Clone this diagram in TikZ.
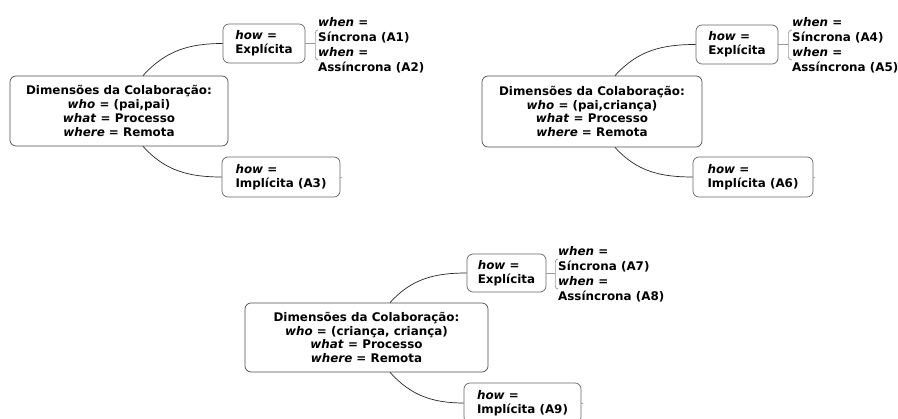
\documentclass[tikz,border=0pt]{standalone}
\usepackage{fontspec}
\setmainfont{DejaVu Sans}
\begin{document}
\begin{tikzpicture}[x=1pt,y=-1pt,
  every node/.style={font=\fontsize{11.9}{13.8}\selectfont\bfseries},
  mainbox/.style={draw=black!70, line width=0.7pt, rounded corners=6pt, align=center, minimum height=70pt, inner sep=0pt},
  subbox/.style={draw=black!60, line width=0.7pt, rounded corners=6pt, align=left, minimum height=39pt, inner sep=0pt},
  whennode/.style={anchor=west, align=left, inner sep=0pt, font=\fontsize{11.9}{15}\selectfont\bfseries},
  conn/.style={draw=black!85, line width=0.7pt},
  br/.style={draw=black!40, line width=0.7pt},
  stub/.style={draw=black!35, line width=0.5pt}]
\clip (0,0) rectangle (898,419);
\useasboundingbox (0,0) rectangle (898,419);

% ---------- diagram 1 ----------
\node[mainbox, minimum width=218pt] (m1) at (119,111)
  {Dimensões da Colaboração:\\\textit{who} = (pai,pai)\\\textit{what} = Processo\\\textit{where} = Remota};
\node[subbox, minimum width=82pt] (e1) at (264,43.5) {\textit{how} =\\Explícita};
\node[subbox, minimum width=118pt, minimum height=40pt] (i1) at (281,177) {\textit{how} =\\Implícita (A3)};
\draw[conn] ([xshift=24pt]m1.north) to[out=48,in=180] (e1.west);
\draw[conn] ([xshift=24pt]m1.south) to[out=-48,in=180] (i1.west);
\node[whennode] (w1a) at (318,30) {\textit{when} =\\Síncrona (A1)};
\node[whennode] (w1b) at (318,60) {\textit{when} =\\Assíncrona (A2)};
\coordinate (b1) at ([xshift=10pt]e1.east);
\draw[br] (e1.east) -- (b1);
\draw[br] (w1a.west) to[out=180,in=90] ([yshift=-3pt]w1a.west -| b1) -- ([yshift=3pt]w1b.west -| b1) to[out=-90,in=180] (w1b.west);
\draw[stub] (i1.east) -- ++(2,0);

% ---------- diagram 2 ----------
\node[mainbox, minimum width=220pt, minimum height=71pt] (m2) at (592,111.5)
  {Dimensões da Colaboração:\\\textit{who} = (pai,criança)\\\textit{what} = Processo\\\textit{where} = Remota};
\node[subbox, minimum width=82pt] (e2) at (737,44.5) {\textit{how} =\\Explícita};
\node[subbox, minimum width=120pt, minimum height=40pt] (i2) at (753,177) {\textit{how} =\\Implícita (A6)};
\draw[conn] ([xshift=23pt]m2.north) to[out=48,in=180] (e2.west);
\draw[conn] ([xshift=23pt]m2.south) to[out=-48,in=180] (i2.west);
\node[whennode] (w2a) at (792,30) {\textit{when} =\\Síncrona (A4)};
\node[whennode] (w2b) at (792,60) {\textit{when} =\\Assíncrona (A5)};
\coordinate (b2) at ([xshift=10pt]e2.east);
\draw[br] (e2.east) -- (b2);
\draw[br] (w2a.west) to[out=180,in=90] ([yshift=-3pt]w2a.west -| b2) -- ([yshift=3pt]w2b.west -| b2) to[out=-90,in=180] (w2b.west);
\draw[stub] (i2.east) -- ++(2,0);

% ---------- diagram 3 ----------
\node[mainbox, minimum width=243pt, minimum height=69pt] (m3) at (366.5,337.5)
  {Dimensões da Colaboração:\\\textit{who} = (criança, criança)\\\textit{what} = Processo\\\textit{where} = Remota};
\node[subbox, minimum width=79pt, minimum height=38pt] (e3) at (506.5,273) {\textit{how} =\\Explícita};
\node[subbox, minimum width=117pt, minimum height=40pt] (i3) at (522.5,403) {\textit{how} =\\Implícita (A9)};
\draw[conn] ([xshift=23.5pt]m3.north) to[out=48,in=180] (e3.west);
\draw[conn] ([xshift=23.5pt]m3.south) to[out=-48,in=180] (i3.west);
\node[whennode] (w3a) at (558,259) {\textit{when} =\\Síncrona (A7)};
\node[whennode] (w3b) at (558,289) {\textit{when} =\\Assíncrona (A8)};
\coordinate (b3) at ([xshift=9pt]e3.east);
\draw[br] (e3.east) -- (b3);
\draw[br] (w3a.west) to[out=180,in=90] ([yshift=-3pt]w3a.west -| b3) -- ([yshift=3pt]w3b.west -| b3) to[out=-90,in=180] (w3b.west);
\draw[stub] (i3.east) -- ++(2,0);
\end{tikzpicture}
\end{document}
